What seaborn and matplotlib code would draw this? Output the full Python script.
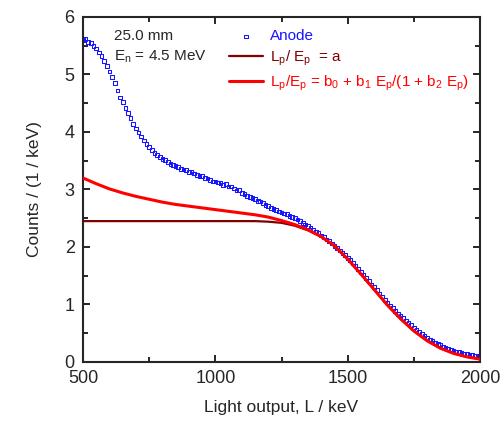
import numpy as np
import pandas as pd
import matplotlib
matplotlib.use("Agg")
import matplotlib.pyplot as plt
from matplotlib.ticker import MultipleLocator
import seaborn as sns

# Measured anode spectrum (10 keV bins)
light_kev = list(range(500, 2001, 10))
anode_counts = [
    5.60, 5.62, 5.57, 5.55, 5.49, 5.45, 5.38, 5.32, 5.23, 5.15,
    5.05, 4.96, 4.85, 4.72, 4.60, 4.52, 4.42, 4.33, 4.24, 4.14,
    4.06, 3.99, 3.92, 3.85, 3.79, 3.74, 3.69, 3.64, 3.60, 3.56,
    3.53, 3.51, 3.48, 3.44, 3.43, 3.41, 3.39, 3.36, 3.35, 3.34,
    3.31, 3.30, 3.28, 3.25, 3.24, 3.23, 3.20, 3.19, 3.17, 3.14,
    3.14, 3.12, 3.11, 3.08, 3.09, 3.05, 3.05, 3.02, 2.98, 2.99,
    2.94, 2.92, 2.89, 2.87, 2.85, 2.83, 2.80, 2.79, 2.76, 2.73,
    2.71, 2.68, 2.66, 2.64, 2.62, 2.60, 2.58, 2.57, 2.54, 2.52,
    2.50, 2.48, 2.45, 2.42, 2.39, 2.37, 2.33, 2.30, 2.27, 2.24,
    2.20, 2.17, 2.13, 2.10, 2.06, 2.02, 1.98, 1.94, 1.90, 1.86,
    1.81, 1.77, 1.72, 1.67, 1.62, 1.57, 1.52, 1.46, 1.41, 1.35,
    1.30, 1.25, 1.19, 1.14, 1.08, 1.03, 0.98, 0.94, 0.89, 0.84,
    0.80, 0.76, 0.72, 0.68, 0.64, 0.60, 0.56, 0.52, 0.49, 0.45,
    0.42, 0.39, 0.37, 0.34, 0.31, 0.29, 0.27, 0.25, 0.23, 0.21,
    0.20, 0.18, 0.17, 0.16, 0.15, 0.14, 0.13, 0.12, 0.11, 0.11,
    0.10,
]

# Model spectra (50 keV steps)
model_kev = list(range(500, 2001, 50))
model_const = [
    2.45, 2.45, 2.45, 2.45, 2.45, 2.45, 2.45, 2.45, 2.45, 2.45,
    2.45, 2.45, 2.45, 2.45, 2.44, 2.42, 2.37, 2.29, 2.18, 2.02,
    1.79, 1.53, 1.26, 0.99, 0.75, 0.54, 0.37, 0.24, 0.15, 0.09,
    0.05,
]
model_ratio = [
    3.20, 3.10, 3.01, 2.94, 2.88, 2.83, 2.78, 2.74, 2.71, 2.68,
    2.65, 2.62, 2.59, 2.56, 2.52, 2.46, 2.39, 2.30, 2.18, 2.02,
    1.79, 1.53, 1.26, 0.99, 0.75, 0.54, 0.37, 0.24, 0.15, 0.09,
    0.05,
]

anode = pd.DataFrame({"L": light_kev, "counts": anode_counts})
models = pd.DataFrame({"L": model_kev, "a": model_const, "b": model_ratio})

sns.set_style("ticks")
plt.rcParams["font.family"] = ["Liberation Sans", "DejaVu Sans"]
plt.rcParams["mathtext.fontset"] = "custom"
plt.rcParams["mathtext.rm"] = "Liberation Sans"

fig = plt.figure(figsize=(5.04, 4.29), dpi=100)
ax = fig.add_axes([0.1647, 0.1562, 0.7877, 0.8042])

sns.scatterplot(data=anode, x="L", y="counts", ax=ax, marker="s", s=7,
                facecolor="none", edgecolor="#1515ff", linewidth=0.75,
                label="Anode", zorder=2)
sns.lineplot(data=models, x="L", y="a", ax=ax, color="#800000", lw=1.6,
             label=r"L$_\mathregular{p}$/ E$_\mathregular{p}$  = a", zorder=3)
sns.lineplot(data=models, x="L", y="b", ax=ax, color="#ff0000", lw=2.2,
             label=r"L$_\mathregular{p}$/E$_\mathregular{p}$ = b$_\mathregular{0}$ + b$_\mathregular{1}$ "
                   r"E$_\mathregular{p}$/(1 + b$_\mathregular{2}$ E$_\mathregular{p}$)", zorder=4)

ax.set_xlim(500, 2000)
ax.set_ylim(0, 6)
ax.xaxis.set_major_locator(MultipleLocator(500))
ax.xaxis.set_minor_locator(MultipleLocator(250))
ax.yaxis.set_major_locator(MultipleLocator(1))
ax.yaxis.set_minor_locator(MultipleLocator(0.5))
ax.tick_params(which="both", direction="in", top=True, right=True,
               width=1.4, labelsize=13, pad=6)
ax.tick_params(which="major", length=5)
ax.tick_params(which="minor", length=3.5)
for sp in ax.spines.values():
    sp.set_linewidth(1.5)
    sp.set_visible(True)

ax.set_xlabel("Light output, L / keV", fontsize=12.5, labelpad=9)
ax.set_ylabel("Counts / (1 / keV)", fontsize=12.5, labelpad=16)

ax.text(0.077, 0.965, "25.0 mm", transform=ax.transAxes, fontsize=11, va="top")
ax.text(0.077, 0.91, r"E$_\mathregular{n}$ = 4.5 MeV", transform=ax.transAxes,
        fontsize=11, va="top")

leg = ax.legend(loc="upper right", bbox_to_anchor=(1.0, 0.995), frameon=False,
                fontsize=11, handlelength=2.2, handletextpad=0.5,
                labelspacing=0.35, borderaxespad=0.3)
for txt, col in zip(leg.get_texts(), ["#1515ff", "#800000", "#ff0000"]):
    txt.set_color(col)

fig.savefig("out.png", dpi=100)
